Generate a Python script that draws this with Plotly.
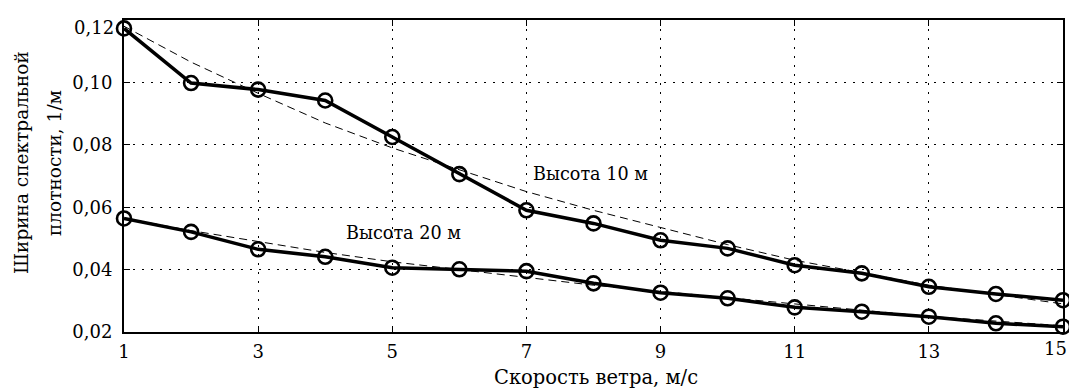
import plotly.graph_objects as go

speed = [1, 2, 3, 4, 5, 6, 7, 8, 9, 10, 11, 12, 13, 14, 15]
width_10m = [0.1173, 0.0998, 0.0977, 0.0942, 0.0825, 0.0706, 0.0590, 0.0548,
             0.0494, 0.0468, 0.0414, 0.0388, 0.0345, 0.0322, 0.0302]
width_20m = [0.0564, 0.0521, 0.0465, 0.0441, 0.0406, 0.0401, 0.0395, 0.0356,
             0.0326, 0.0308, 0.0279, 0.0265, 0.0249, 0.0228, 0.0217]
trend_10m = [0.1180, 0.1065, 0.0965, 0.0870, 0.0790, 0.0720, 0.0650, 0.0590,
             0.0535, 0.0480, 0.0430, 0.0390, 0.0350, 0.0320, 0.0290]
trend_20m = [0.0565, 0.0525, 0.0490, 0.0455, 0.0425, 0.0400, 0.0375, 0.0350,
             0.0330, 0.0310, 0.0290, 0.0270, 0.0250, 0.0235, 0.0220]
x_ticks = [1, 3, 5, 7, 9, 11, 13, 15]
x_ticktext = ["1", "3", "5", "7", "9", "11", "13", "15"]
y_ticks = [0.02, 0.04, 0.06, 0.08, 0.10, 0.12]
y_ticktext = ["0,02", "0,04", "0,06", "0,08", "0,10", "0,12"]
labels = ["Высота 10 м", "Высота 20 м"]
x_title = "Скорость ветра, м/с"
y_title = ["Ширина спектральной", "плотности, 1/м"]

FONT = "DejaVu Serif"

fig = go.Figure()
for tr in (trend_10m, trend_20m):
    fig.add_trace(go.Scatter(x=speed, y=tr, mode="lines",
                             line=dict(color="black", width=1, dash="8px,5px"),
                             showlegend=False, hoverinfo="skip", cliponaxis=False))
for ser in (width_10m, width_20m):
    fig.add_trace(go.Scatter(x=speed, y=ser, mode="lines+markers",
                             line=dict(color="black", width=3.5),
                             marker=dict(symbol="circle-open", size=14, color="black",
                                         line=dict(width=2.6, color="black")),
                             showlegend=False, cliponaxis=False))

fig.add_annotation(x=7.95, y=0.0706, text=labels[0], showarrow=False,
                   font=dict(size=17.6, color="black", family=FONT))
fig.add_annotation(x=5.16, y=0.0517, text=labels[1], showarrow=False,
                   font=dict(size=17.6, color="black", family=FONT))
# axis titles
fig.add_annotation(xref="paper", yref="paper", x=0.5027, y=0, yshift=-45,
                   text=x_title, showarrow=False,
                   xanchor="center", yanchor="middle",
                   font=dict(size=19.5, color="black", family=FONT))
for i, shift in enumerate((-102, -69)):
    fig.add_annotation(xref="paper", yref="paper", x=0, xshift=shift, y=0.5417,
                       text=y_title[i], showarrow=False,
                       textangle=-90, xanchor="center", yanchor="middle",
                       font=dict(size=18.5, color="black", family=FONT))
# edge tick labels placed inside the page like the reference
fig.add_annotation(xref="x", yref="paper", x=x_ticks[-1], y=0, xshift=6, yshift=-4,
                   text=x_ticktext[-1], showarrow=False, xanchor="right", yanchor="top",
                   font=dict(size=18, color="black", family=FONT))
fig.add_annotation(xref="paper", yref="y", x=0, y=y_ticks[-1], xshift=-8, yshift=-7,
                   text=y_ticktext[-1], showarrow=False, xanchor="right", yanchor="middle",
                   font=dict(size=18, color="black", family=FONT))

fig.update_layout(
    width=1069, height=388,
    margin=dict(l=124, r=6, t=20, b=56, autoexpand=False),
    paper_bgcolor="white", plot_bgcolor="white",
    font=dict(family=FONT, size=18, color="black"),
    showlegend=False,
)
fig.update_xaxes(range=[1, 15], tickvals=x_ticks,
                 ticktext=x_ticktext[:-1] + [""], ticks="inside", ticklen=6,
                 tickcolor="black", showline=True, linecolor="black", linewidth=2,
                 mirror="ticks", showgrid=True, gridcolor="black", gridwidth=1,
                 griddash="2px,7px", zeroline=False, automargin=False,
                 ticklabeloverflow="allow", ticklabelstandoff=2,
                 tickfont=dict(size=18, family=FONT))
fig.update_yaxes(range=[0.02, 0.12], tickvals=y_ticks,
                 ticktext=y_ticktext[:-1] + [""],
                 ticks="inside", ticklen=6, tickcolor="black", showline=True,
                 linecolor="black", linewidth=2, mirror="ticks", showgrid=True,
                 gridcolor="black", gridwidth=1, griddash="2px,7px", zeroline=False,
                 automargin=False, ticklabeloverflow="allow", ticklabelstandoff=6,
                 tickfont=dict(size=18, family=FONT))

fig.write_html("out.html", config={"displayModeBar": False},
               post_script="document.body.style.margin='0px';"
                           "document.body.style.overflow='hidden';")
